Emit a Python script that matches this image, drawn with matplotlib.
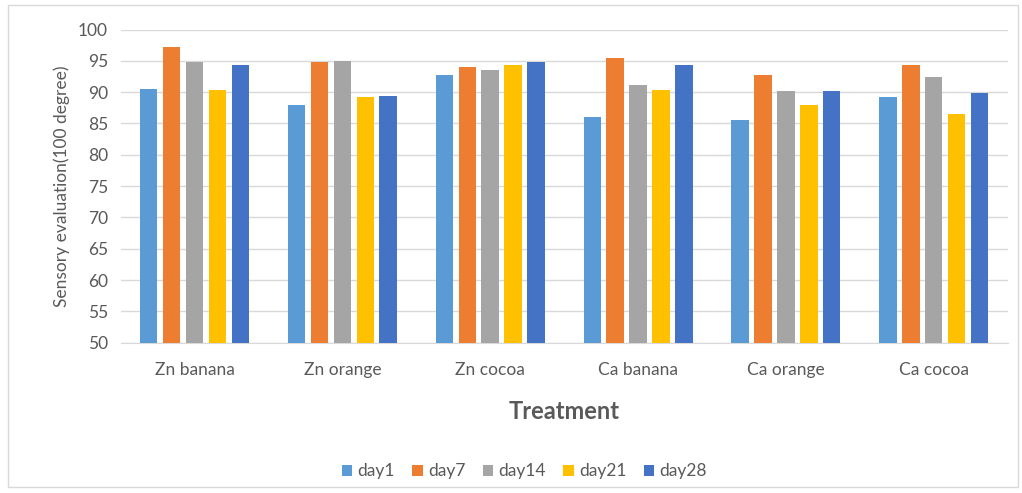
import numpy as np
import matplotlib

matplotlib.use("Agg")
import matplotlib.pyplot as plt
from matplotlib.patches import Rectangle

plt.rcParams["font.family"] = ["Lato", "DejaVu Sans"]

treatments = ["Zn banana", "Zn orange", "Zn cocoa", "Ca banana", "Ca orange", "Ca cocoa"]
day1 = [90.5, 87.9, 92.7, 86.0, 85.6, 89.2]
day7 = [97.2, 94.8, 94.0, 95.5, 92.7, 94.3]
day14 = [94.8, 95.0, 93.5, 91.2, 90.2, 92.5]
day21 = [90.4, 89.2, 94.3, 90.3, 87.9, 86.5]
day28 = [94.3, 89.4, 94.8, 94.3, 90.2, 89.9]

series = {"day1": day1, "day7": day7, "day14": day14, "day21": day21, "day28": day28}
colors = ["#5B9BD5", "#ED7D31", "#A5A5A5", "#FFC000", "#4472C4"]
text_color = "#595959"

fig = plt.figure(figsize=(10.22, 4.93), dpi=100)
ax = fig.add_axes([0.118, 0.305, 0.868, 0.635])

x = np.arange(len(treatments))
width = 0.118
step = 0.155
for i, (name, vals) in enumerate(series.items()):
    ax.bar(x + (i - 2) * step, vals, width=width, color=colors[i], label=name, zorder=3)

ax.set_ylim(50, 100)
ax.set_yticks(np.arange(50, 101, 5))
ax.set_xlim(-0.5, len(treatments) - 0.5)
ax.set_xticks(x)
ax.set_xticklabels(treatments)
ax.yaxis.grid(True, color="#D9D9D9", linewidth=1, zorder=0)
ax.tick_params(axis="both", length=0, labelsize=12.5, colors=text_color)
ax.tick_params(axis="x", pad=14)
ax.tick_params(axis="y", pad=9)
for side in ["top", "right", "left"]:
    ax.spines[side].set_visible(False)
ax.spines["bottom"].set_color("#D9D9D9")

ax.set_ylabel("Sensory evaluation(100 degree)", fontsize=12.5, color=text_color, labelpad=6)
ax.set_xlabel("Treatment", fontsize=17, fontweight="bold", color=text_color, labelpad=16)

leg = ax.legend(loc="upper center", bbox_to_anchor=(0.455, -0.335), ncol=5, frameon=False,
                fontsize=12.5, handlelength=0.6, handleheight=0.6, columnspacing=1.0,
                handletextpad=0.3, labelcolor=text_color)

# light frame round the whole chart
fig.patches.append(Rectangle((0.008, 0.012), 0.988, 0.978, transform=fig.transFigure,
                             fill=False, edgecolor="#D9D9D9", linewidth=1))

fig.savefig("out.png", dpi=100)
